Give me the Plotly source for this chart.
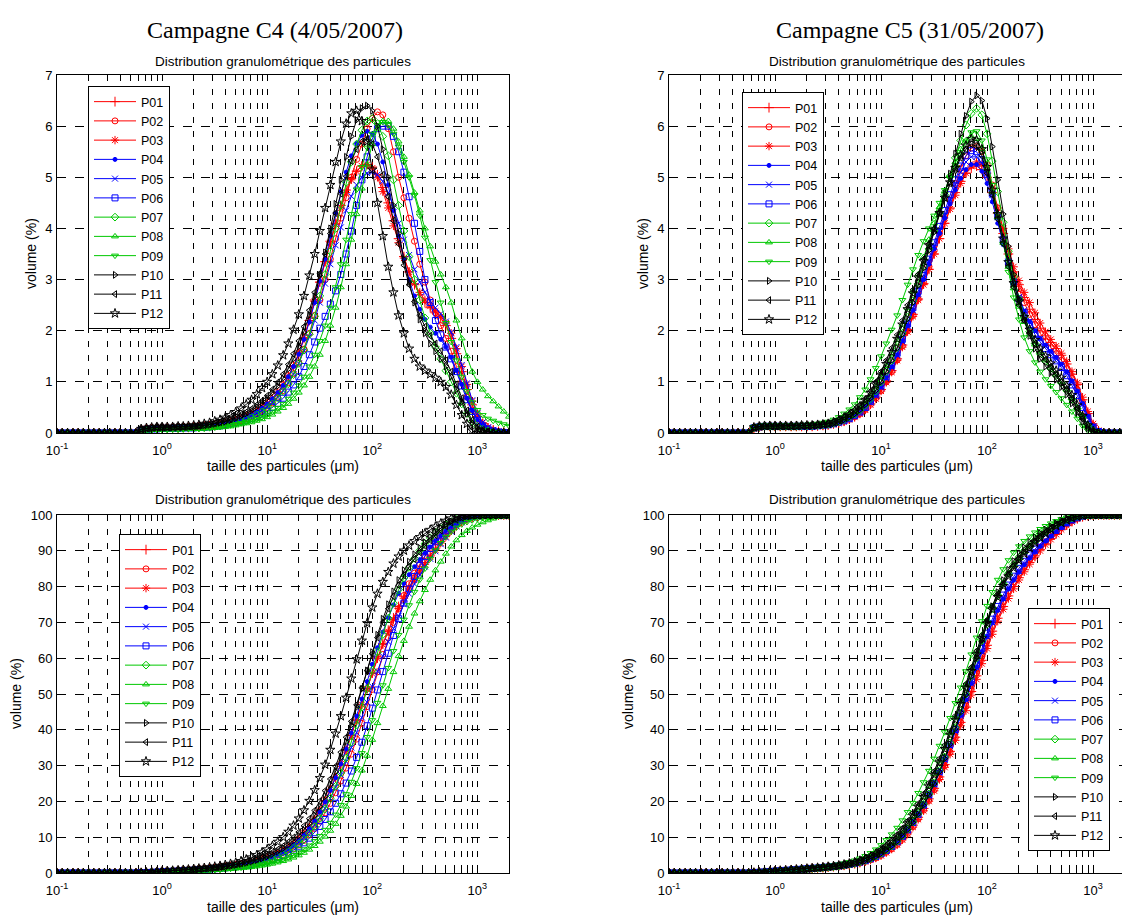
import numpy as np
import plotly.graph_objects as go
import math

# ---------------- data ----------------
sizes = [0.1, 0.112, 0.126, 0.142, 0.159, 0.178, 0.2, 0.224, 0.252, 0.283,
         0.317, 0.356, 0.399, 0.448, 0.502, 0.564, 0.632, 0.71, 0.796, 0.893,
         1.0, 1.12, 1.26, 1.42, 1.59, 1.78, 2.0, 2.24, 2.52, 2.83,
         3.17, 3.56, 3.99, 4.48, 5.02, 5.64, 6.32, 7.1, 7.96, 8.93,
         10.0, 11.2, 12.6, 14.2, 15.9, 17.8, 20.0, 22.4, 25.2, 28.3,
         31.7, 35.6, 39.9, 44.8, 50.2, 56.4, 63.2, 71.0, 79.6, 89.3,
         100, 112, 126, 142, 159, 178, 200, 224, 252, 283,
         317, 356, 399, 448, 502, 564, 632, 710, 796, 893,
         1002, 1125, 1262, 1416, 1589, 1783, 2000]

names = ["P01", "P02", "P03", "P04", "P05", "P06", "P07", "P08", "P09", "P10", "P11", "P12"]

# Campagne C4 - volume (%) per size class
c4_p01 = [0]*16 + [0.06,0.08,0.09,0.1,0.1,0.1,0.1,0.1,0.11,0.11,0.12,0.12,0.13,0.14,
    0.15,0.17,0.19,0.21,0.24,0.27,0.31,0.36,0.42,0.48,
    0.56,0.66,0.78,0.93,1.1,1.3,1.55,1.85,2.2,2.6,
    2.95,3.35,3.75,4.1,4.45,4.75,4.98,5.12,5.22,5.25,
    5.2,5.05,4.8,4.5,4.15,3.8,3.45,3.15,2.9,2.7,
    2.55,2.45,2.35,2.25,2.1,1.85,1.55,1.2,0.85,0.55,
    0.32,0.18,0.1,0.06,0.03,0.02,0.01]
c4_p02 = [0]*16 + [0.05,0.07,0.08,0.09,0.09,0.09,0.1,0.1,0.1,0.1,0.11,0.11,0.12,0.13,
    0.14,0.15,0.17,0.19,0.21,0.24,0.28,0.32,0.37,0.43,
    0.5,0.59,0.7,0.83,0.98,1.16,1.38,1.64,1.95,2.3,
    2.6,3.0,3.4,3.8,4.2,4.6,5.0,5.35,5.65,5.95,
    6.15,6.28,6.22,5.95,5.5,5.0,4.6,4.2,3.75,3.3,
    2.95,2.6,2.35,2.1,1.85,1.6,1.3,1.0,0.7,0.45,
    0.27,0.15,0.08,0.05,0.03,0.02,0.01]
c4_p03 = [0]*16 + [0.06,0.08,0.09,0.1,0.1,0.1,0.1,0.11,0.11,0.12,0.12,0.13,0.14,0.15,
    0.16,0.18,0.2,0.22,0.25,0.28,0.32,0.37,0.43,0.5,
    0.58,0.68,0.8,0.95,1.12,1.32,1.57,1.87,2.2,2.57,
    2.95,3.35,3.72,4.08,4.4,4.7,4.95,5.12,5.22,5.25,
    5.18,5.0,4.72,4.4,4.05,3.72,3.42,3.15,2.92,2.75,
    2.6,2.48,2.38,2.28,2.15,1.95,1.65,1.3,0.95,0.62,
    0.37,0.2,0.11,0.06,0.03,0.02,0.01]
c4_p04 = [0]*16 + [0.06,0.08,0.09,0.1,0.1,0.1,0.1,0.1,0.11,0.11,0.12,0.12,0.13,0.14,
    0.15,0.17,0.19,0.21,0.24,0.27,0.31,0.36,0.42,0.49,
    0.57,0.67,0.79,0.93,1.1,1.3,1.54,1.83,2.17,2.55,
    2.97,3.4,3.85,4.3,4.72,5.1,5.42,5.66,5.82,5.9,
    5.85,5.65,5.3,4.85,4.35,3.85,3.4,3.0,2.68,2.42,
    2.22,2.07,1.95,1.83,1.68,1.48,1.22,0.95,0.68,0.44,
    0.26,0.15,0.08,0.05,0.03,0.02,0.01]
c4_p05 = [0]*16 + [0.05,0.07,0.08,0.09,0.09,0.09,0.1,0.1,0.1,0.1,0.11,0.11,0.12,0.13,
    0.14,0.16,0.18,0.2,0.22,0.25,0.29,0.33,0.38,0.44,
    0.51,0.6,0.7,0.83,0.98,1.15,1.36,1.6,1.88,2.2,
    2.55,2.92,3.3,3.67,4.02,4.35,4.63,4.85,5.0,5.08,
    5.1,5.05,4.92,4.7,4.42,4.1,3.78,3.48,3.2,2.95,
    2.75,2.58,2.45,2.33,2.18,1.97,1.68,1.33,0.97,0.64,
    0.38,0.21,0.11,0.06,0.03,0.02,0.01]
c4_p06 = [0]*16 + [0.05,0.07,0.08,0.08,0.09,0.09,0.09,0.09,0.1,0.1,0.1,0.11,0.11,0.12,
    0.13,0.14,0.16,0.18,0.2,0.22,0.25,0.28,0.32,0.37,
    0.43,0.5,0.58,0.68,0.8,0.94,1.1,1.3,1.53,1.78,
    2.05,2.28,2.52,2.78,3.1,3.5,3.95,4.45,4.95,5.4,
    5.75,5.95,6.0,6.0,5.8,5.5,5.1,4.62,4.1,3.55,
    3.0,2.55,2.2,1.92,1.68,1.45,1.2,0.92,0.65,0.42,
    0.25,0.14,0.08,0.04,0.02,0.01,0.0]
c4_p07 = [0]*16 + [0.04,0.06,0.07,0.08,0.08,0.08,0.09,0.09,0.09,0.1,0.1,0.1,0.11,0.12,
    0.13,0.14,0.16,0.18,0.2,0.23,0.26,0.3,0.35,0.41,
    0.48,0.57,0.68,0.81,0.96,1.14,1.36,1.62,1.93,2.28,
    2.68,3.1,3.55,4.0,4.45,4.9,5.3,5.65,5.92,6.1,
    6.15,6.05,5.8,5.42,4.95,4.45,3.95,3.45,3.0,2.6,
    2.25,1.95,1.68,1.45,1.22,1.0,0.78,0.57,0.38,0.23,
    0.13,0.07,0.04,0.02,0.01,0.0,0.0]
c4_p08 = [0]*16 + [0.03,0.05,0.06,0.06,0.07,0.07,0.07,0.07,0.08,0.08,0.08,0.08,0.09,0.09,
    0.1,0.11,0.12,0.13,0.15,0.17,0.19,0.21,0.24,0.27,
    0.31,0.36,0.42,0.49,0.57,0.67,0.79,0.93,1.1,1.3,
    1.53,1.8,2.1,2.45,2.85,3.3,3.78,4.28,4.78,5.25,
    5.65,5.95,6.1,6.1,5.95,5.7,5.4,5.05,4.7,4.35,
    4.0,3.65,3.35,3.1,2.85,2.55,2.2,1.85,1.5,1.2,
    1.0,0.85,0.72,0.62,0.52,0.42,0.32]
c4_p09 = [0]*16 + [0.03,0.05,0.06,0.06,0.07,0.07,0.07,0.07,0.08,0.08,0.08,0.09,0.09,0.1,
    0.11,0.12,0.13,0.15,0.17,0.19,0.21,0.24,0.27,0.31,
    0.36,0.42,0.49,0.57,0.67,0.79,0.93,1.1,1.3,1.53,
    1.8,2.1,2.45,2.85,3.3,3.78,4.28,4.76,5.2,5.58,
    5.85,6.02,6.08,6.02,5.85,5.6,5.3,5.0,4.65,4.25,
    3.82,3.38,2.95,2.55,2.15,1.78,1.42,1.1,0.82,0.6,
    0.45,0.35,0.28,0.24,0.2,0.17,0.14]
c4_p10 = [0]*16 + [0.07,0.09,0.1,0.11,0.11,0.11,0.11,0.12,0.12,0.12,0.13,0.14,0.15,0.16,
    0.18,0.2,0.22,0.25,0.29,0.33,0.38,0.44,0.51,0.59,
    0.68,0.79,0.92,1.07,1.25,1.45,1.69,1.97,2.3,2.67,
    3.08,3.53,4.0,4.48,4.95,5.4,5.8,6.12,6.35,6.4,
    6.3,6.0,5.55,5.0,4.45,3.9,3.4,2.95,2.55,2.22,
    1.95,1.75,1.6,1.45,1.3,1.1,0.85,0.6,0.38,0.2,
    0.1,0.05,0.02,0.01,0.0,0.0,0.0]
c4_p11 = [0]*16 + [0.07,0.09,0.1,0.11,0.11,0.11,0.12,0.12,0.12,0.13,0.13,0.14,0.15,0.17,
    0.19,0.21,0.24,0.27,0.31,0.36,0.41,0.47,0.55,0.63,
    0.73,0.85,0.99,1.15,1.34,1.55,1.8,2.08,2.4,2.75,
    3.12,3.5,3.9,4.3,4.68,5.02,5.32,5.55,5.7,5.75,
    5.65,5.4,5.05,4.62,4.15,3.7,3.28,2.9,2.57,2.3,
    2.08,1.9,1.75,1.6,1.42,1.2,0.95,0.68,0.44,0.25,
    0.12,0.06,0.03,0.01,0.0,0.0,0.0]
c4_p12 = [0]*16 + [0.08,0.1,0.11,0.12,0.12,0.12,0.12,0.13,0.13,0.14,0.15,0.16,0.18,0.2,
    0.23,0.26,0.3,0.35,0.41,0.48,0.56,0.65,0.76,0.88,
    1.0,1.15,1.32,1.52,1.75,2.02,2.32,2.68,3.08,3.5,
    3.95,4.4,4.85,5.3,5.7,6.05,6.25,6.3,6.1,5.7,
    5.15,4.5,3.85,3.25,2.75,2.3,1.95,1.65,1.45,1.3,
    1.22,1.15,1.08,1.0,0.9,0.75,0.55,0.35,0.18,0.05,
    0,0,0,0,0,0,0]

# Campagne C5 - volume (%) per size class
c5_p01 = [0]*16 + [0.1,0.12,0.13,0.13,0.13,0.13,0.13,0.13,0.13,0.13,0.13,0.13,0.14,0.15,
    0.16,0.18,0.2,0.23,0.27,0.32,0.39,0.47,0.57,0.7,
    0.85,1.02,1.22,1.45,1.72,2.02,2.32,2.62,2.92,3.2,
    3.5,3.8,4.1,4.4,4.7,4.92,5.08,5.18,5.22,5.15,
    5.0,4.7,4.3,3.9,3.5,3.15,2.9,2.65,2.42,2.22,
    2.05,1.9,1.77,1.65,1.52,1.35,1.15,0.95,0.65,0.38,
    0.15,0.04,0,0,0,0,0]
c5_p02 = [0]*16 + [0.09,0.11,0.12,0.12,0.12,0.12,0.12,0.12,0.12,0.12,0.12,0.13,0.14,0.15,
    0.16,0.18,0.2,0.23,0.27,0.32,0.38,0.46,0.56,0.68,
    0.83,1.0,1.2,1.43,1.7,2.0,2.3,2.62,2.94,3.25,
    3.57,3.9,4.22,4.55,4.88,5.18,5.42,5.57,5.6,5.5,
    5.25,4.85,4.4,3.95,3.5,3.12,2.82,2.55,2.32,2.12,
    1.95,1.8,1.67,1.55,1.42,1.26,1.07,0.85,0.6,0.35,
    0.14,0.04,0,0,0,0,0]
c5_p03 = [0]*16 + [0.09,0.11,0.12,0.12,0.12,0.12,0.12,0.12,0.12,0.12,0.12,0.13,0.13,0.14,
    0.15,0.17,0.19,0.22,0.26,0.31,0.37,0.45,0.55,0.67,
    0.82,0.99,1.19,1.42,1.68,1.98,2.28,2.6,2.9,3.2,
    3.5,3.8,4.1,4.38,4.65,4.88,5.08,5.22,5.3,5.25,
    5.08,4.78,4.4,4.0,3.6,3.25,2.98,2.75,2.55,2.35,
    2.15,1.98,1.83,1.7,1.56,1.4,1.2,0.98,0.7,0.42,
    0.18,0.05,0,0,0,0,0]
c5_p04 = [0]*16 + [0.1,0.12,0.13,0.13,0.13,0.13,0.13,0.13,0.13,0.13,0.14,0.14,0.15,0.15,
    0.16,0.18,0.21,0.24,0.28,0.34,0.41,0.5,0.61,0.75,
    0.91,1.09,1.3,1.53,1.8,2.1,2.4,2.7,3.0,3.3,
    3.6,3.9,4.2,4.48,4.75,4.98,5.15,5.25,5.25,5.12,
    4.88,4.52,4.1,3.68,3.28,2.92,2.62,2.38,2.18,2.0,
    1.85,1.72,1.6,1.48,1.35,1.2,1.02,0.82,0.58,0.33,
    0.14,0.04,0,0,0,0,0]
c5_p05 = [0]*16 + [0.1,0.12,0.13,0.13,0.13,0.13,0.13,0.13,0.13,0.13,0.14,0.14,0.15,0.15,
    0.16,0.18,0.21,0.24,0.28,0.33,0.4,0.49,0.6,0.73,
    0.89,1.07,1.28,1.52,1.79,2.09,2.4,2.72,3.03,3.34,
    3.65,3.96,4.26,4.56,4.85,5.1,5.3,5.4,5.4,5.28,
    5.02,4.65,4.22,3.78,3.35,2.98,2.66,2.4,2.18,2.0,
    1.84,1.7,1.58,1.46,1.33,1.18,1.0,0.8,0.56,0.32,
    0.13,0.03,0,0,0,0,0]
c5_p06 = [0]*16 + [0.1,0.12,0.13,0.13,0.13,0.13,0.13,0.13,0.13,0.13,0.13,0.13,0.14,0.15,
    0.16,0.18,0.21,0.24,0.28,0.34,0.41,0.5,0.62,0.76,
    0.92,1.1,1.32,1.56,1.83,2.13,2.45,2.77,3.08,3.4,
    3.72,4.04,4.35,4.66,4.95,5.22,5.42,5.52,5.5,5.35,
    5.06,4.68,4.24,3.78,3.34,2.95,2.62,2.35,2.12,1.93,
    1.78,1.65,1.53,1.41,1.28,1.12,0.94,0.73,0.5,0.28,
    0.11,0.03,0,0,0,0,0]
c5_p07 = [0]*16 + [0.1,0.12,0.13,0.13,0.13,0.13,0.13,0.13,0.13,0.14,0.14,0.14,0.15,0.16,
    0.17,0.19,0.22,0.26,0.31,0.37,0.45,0.55,0.67,0.82,
    1.0,1.2,1.42,1.67,1.95,2.26,2.58,2.92,3.26,3.6,
    3.95,4.3,4.66,5.02,5.38,5.72,6.02,6.25,6.35,6.22,
    5.85,5.32,4.72,4.12,3.55,3.05,2.62,2.27,1.98,1.75,
    1.56,1.4,1.26,1.12,0.98,0.83,0.66,0.48,0.3,0.15,
    0.05,0.01,0,0,0,0,0]
c5_p08 = [0]*16 + [0.11,0.13,0.14,0.14,0.14,0.14,0.14,0.14,0.14,0.14,0.15,0.15,0.16,0.17,
    0.18,0.2,0.24,0.28,0.34,0.41,0.5,0.61,0.75,0.91,
    1.1,1.31,1.55,1.82,2.12,2.44,2.77,3.1,3.44,3.78,
    4.1,4.42,4.73,5.03,5.3,5.55,5.72,5.8,5.75,5.55,
    5.18,4.72,4.22,3.72,3.25,2.83,2.47,2.17,1.93,1.73,
    1.56,1.42,1.28,1.14,1.0,0.85,0.68,0.5,0.32,0.16,
    0.06,0.01,0,0,0,0,0]
c5_p09 = [0]*16 + [0.12,0.14,0.15,0.15,0.15,0.15,0.15,0.15,0.15,0.16,0.16,0.17,0.18,0.2,
    0.22,0.26,0.31,0.38,0.46,0.56,0.7,0.85,1.05,1.27,
    1.5,1.75,2.02,2.3,2.6,2.9,3.2,3.48,3.75,4.0,
    4.25,4.5,4.75,4.98,5.2,5.45,5.7,5.88,5.9,5.72,
    5.35,4.85,4.28,3.7,3.15,2.65,2.22,1.87,1.6,1.38,
    1.2,1.05,0.92,0.8,0.68,0.55,0.42,0.28,0.14,0.05,
    0.01,0,0,0,0,0,0]
c5_p10 = [0]*16 + [0.1,0.12,0.13,0.13,0.13,0.13,0.13,0.13,0.13,0.14,0.14,0.14,0.15,0.16,
    0.17,0.19,0.22,0.26,0.31,0.37,0.45,0.55,0.68,0.83,
    1.0,1.2,1.42,1.66,1.93,2.23,2.55,2.88,3.22,3.57,
    3.93,4.3,4.68,5.07,5.46,5.85,6.2,6.48,6.6,6.5,
    6.15,5.6,4.95,4.28,3.65,3.1,2.62,2.22,1.9,1.65,
    1.45,1.3,1.17,1.04,0.9,0.75,0.58,0.4,0.22,0.09,
    0.02,0,0,0,0,0,0]
c5_p11 = [0]*16 + [0.11,0.13,0.14,0.14,0.14,0.14,0.14,0.14,0.15,0.15,0.15,0.16,0.17,0.18,
    0.19,0.22,0.26,0.31,0.37,0.45,0.55,0.67,0.82,1.0,
    1.2,1.42,1.66,1.92,2.2,2.5,2.8,3.1,3.4,3.7,
    4.0,4.3,4.6,4.88,5.15,5.38,5.55,5.65,5.6,5.42,
    5.08,4.65,4.18,3.7,3.25,2.85,2.5,2.2,1.95,1.75,
    1.58,1.44,1.3,1.16,1.02,0.86,0.68,0.48,0.28,0.12,
    0.03,0,0,0,0,0,0]
c5_p12 = [0]*16 + [0.11,0.13,0.14,0.14,0.14,0.14,0.14,0.14,0.14,0.15,0.15,0.15,0.16,0.17,
    0.18,0.21,0.25,0.3,0.36,0.43,0.52,0.64,0.78,0.95,
    1.14,1.35,1.58,1.84,2.12,2.42,2.73,3.04,3.36,3.67,
    3.98,4.3,4.6,4.9,5.18,5.43,5.62,5.75,5.72,5.55,
    5.2,4.76,4.28,3.8,3.34,2.93,2.57,2.27,2.02,1.82,
    1.65,1.5,1.36,1.22,1.08,0.92,0.74,0.54,0.33,0.15,
    0.04,0,0,0,0,0,0]

c4_series = [c4_p01, c4_p02, c4_p03, c4_p04, c4_p05, c4_p06,
             c4_p07, c4_p08, c4_p09, c4_p10, c4_p11, c4_p12]
c5_series = [c5_p01, c5_p02, c5_p03, c5_p04, c5_p05, c5_p06,
             c5_p07, c5_p08, c5_p09, c5_p10, c5_p11, c5_p12]


# cumulative volume (%) = running sum of the class volumes
def cumulative(v):
    c = np.cumsum(np.asarray(v, dtype=float))
    return c / c[-1] * 100.0


c4_cum = [cumulative(v) for v in c4_series]
c5_cum = [cumulative(v) for v in c5_series]

# ---------------- styles ----------------
GREEN = "rgb(0,200,0)"
colors = ["red", "red", "red", "blue", "blue", "blue",
          GREEN, GREEN, GREEN, "black", "black", "black"]
symbols = ["cross-thin-open", "circle-open", "asterisk-open", "circle", "x-thin-open",
           "square-open", "diamond-open", "triangle-up-open", "triangle-down-open",
           "triangle-right-open", "triangle-left-open", "star-open"]
msizes = [7, 6, 7, 4, 6, 6, 6, 6, 6, 6, 6, 7]

W, H = 1122, 918
ML, MR, MT, MB = 57, 0, 75, 45
PW, PH = W - ML - MR, H - MT - MB


def px_x(px):
    return (px - ML) / PW


def px_y(py):
    return (H - MB - py) / PH


fig = go.Figure()

panels = [("x", "y", c4_series, "legend"),
          ("x2", "y2", c5_series, "legend2"),
          ("x3", "y3", c4_cum, "legend3"),
          ("x4", "y4", c5_cum, "legend4")]

for xa, ya, series, leg in panels:
    for i, vals in enumerate(series):
        fig.add_trace(go.Scatter(
            x=sizes, y=list(vals), xaxis=xa, yaxis=ya, name=names[i],
            legend=leg, mode="lines+markers",
            line=dict(color=colors[i], width=1),
            marker=dict(symbol=symbols[i], size=msizes[i], color=colors[i],
                        line=dict(color=colors[i], width=1)),
            hoverinfo="skip"))

FONT = "Liberation Sans"
tickvals = [0.1, 1, 10, 100, 1000]
ticktext = ["10<sup>-1</sup>", "10<sup>0</sup>", "10<sup>1</sup>", "10<sup>2</sup>", "10<sup>3</sup>"]
minor_vals = [m * 10.0 ** e for e in range(-1, 4) for m in range(2, 10) if m * 10.0 ** e <= 2000]

left_dom = [0.0, px_x(509)]
right_dom = [px_x(669), 1.0]
top_dom = [px_y(433), 1.0]
bot_dom = [0.0, px_y(515)]


def xaxis(dom, anchor, rng):
    return dict(type="log", domain=dom, anchor=anchor, range=rng,
                tickmode="array", tickvals=tickvals, ticktext=ticktext,
                showline=True, linecolor="black", linewidth=1, mirror=True,
                ticks="inside", ticklen=5, tickcolor="black",
                showgrid=True, gridcolor="black", gridwidth=1, griddash="6px,8px",
                minor=dict(tickmode="array", tickvals=minor_vals, ticks="inside", ticklen=3,
                           tickcolor="black", showgrid=True, gridcolor="black",
                           gridwidth=1, griddash="6px,8px"),
                tickfont=dict(family=FONT, size=13, color="black"),
                ticklabelstandoff=5,
                zeroline=False, fixedrange=True, automargin=False)


def yaxis(dom, anchor, rng, dt, mirror):
    return dict(domain=dom, anchor=anchor, range=rng, tickmode="linear", tick0=0, dtick=dt,
                showline=True, linecolor="black", linewidth=1, mirror=mirror,
                ticks="inside", ticklen=5, tickcolor="black",
                showgrid=True, gridcolor="black", gridwidth=1, griddash="9px,9px",
                tickfont=dict(family=FONT, size=13, color="black"),
                ticklabelstandoff=1,
                zeroline=False, fixedrange=True, automargin=False)


L_RANGE = [-1, math.log10(2000)]
R_RANGE = [-1, math.log10(2000) - 3.0 / 106]

fig.update_layout(
    width=W, height=H,
    margin=dict(l=ML, r=MR, t=MT, b=MB, autoexpand=False),
    paper_bgcolor="white", plot_bgcolor="white",
    xaxis=xaxis(left_dom, "y", L_RANGE),
    yaxis=yaxis(top_dom, "x", [0, 7], 1, True),
    xaxis2=xaxis(right_dom, "y2", R_RANGE),
    yaxis2=yaxis(top_dom, "x2", [0, 7], 1, False),
    xaxis3=xaxis(left_dom, "y3", L_RANGE),
    yaxis3=yaxis(bot_dom, "x3", [0, 100], 10, True),
    xaxis4=xaxis(right_dom, "y4", R_RANGE),
    yaxis4=yaxis(bot_dom, "x4", [0, 100], 10, False),
    showlegend=True,
)

leg_common = dict(xref="paper", yref="paper", xanchor="left", yanchor="top",
                  bgcolor="white", bordercolor="black", borderwidth=1,
                  font=dict(family=FONT, size=12.5, color="black"),
                  itemwidth=42, tracegroupgap=0, itemclick=False, itemdoubleclick=False)
fig.update_layout(
    legend=dict(leg_common, x=px_x(88), y=px_y(86)),
    legend2=dict(leg_common, x=px_x(742), y=px_y(92)),
    legend3=dict(leg_common, x=px_x(119), y=px_y(534)),
    legend4=dict(leg_common, x=px_x(1028), y=px_y(608)),
)

annots = []
# main titles
for txt, cx in [("Campagne C4 (4/05/2007)", 275), ("Campagne C5 (31/05/2007)", 910)]:
    annots.append(dict(text=txt, x=px_x(cx), y=px_y(30), xref="paper", yref="paper",
                       showarrow=False, xanchor="center", yanchor="middle",
                       font=dict(family="Liberation Serif", size=24, color="black")))
# subplot titles
for cx, cy in [(283, 62), (897, 62), (283, 499), (897, 499)]:
    annots.append(dict(text="Distribution granulométrique des particules",
                       x=px_x(cx), y=px_y(cy), xref="paper", yref="paper",
                       showarrow=False, xanchor="center", yanchor="middle",
                       font=dict(family=FONT, size=13.5, color="black")))
# x titles
for cx, cy in [(283, 466), (897, 466), (283, 907), (897, 907)]:
    annots.append(dict(text="taille des particules (μm)",
                       x=px_x(cx), y=px_y(cy), xref="paper", yref="paper",
                       showarrow=False, xanchor="center", yanchor="middle",
                       font=dict(family=FONT, size=14, color="black")))
# y titles
for cx, cy in [(31, 254), (643, 254), (16, 694), (628, 694)]:
    annots.append(dict(text="volume (%)", textangle=-90,
                       x=px_x(cx), y=px_y(cy), xref="paper", yref="paper",
                       showarrow=False, xanchor="center", yanchor="middle",
                       font=dict(family=FONT, size=14, color="black")))
fig.update_layout(annotations=annots)

fig.write_html("out.html")
